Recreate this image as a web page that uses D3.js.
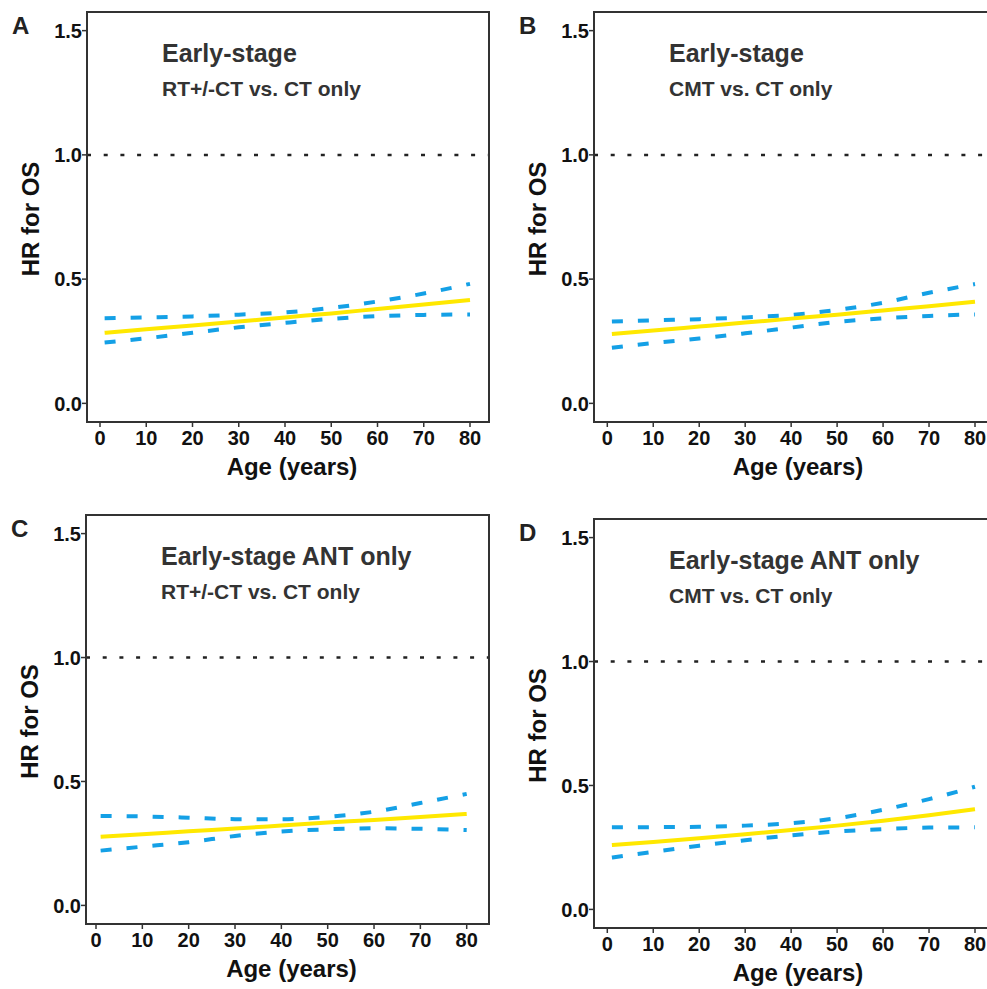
<!DOCTYPE html>
<html>
<head>
<meta charset="utf-8">
<script src="https://cdn.jsdelivr.net/npm/d3@7"></script>
<style>
	body { margin: 0; background: #fff; }
	svg { display: block; font-family: "Liberation Sans", Arial, sans-serif; }
	.frame { fill: none; stroke: #333; stroke-width: 2; }
	.tick-mark { stroke: #333; stroke-width: 1.5; }
	.tick-label { font-size: 20px; font-weight: bold; fill: #111; }
	.axis-title { font-size: 24px; font-weight: bold; fill: #111; }
	.panel-letter { font-size: 24px; font-weight: bold; fill: #222; }
	.title { font-size: 25px; font-weight: bold; fill: #333; }
	.subtitle { font-size: 21px; font-weight: bold; fill: #333; }
	.ref { stroke: #222; stroke-width: 2.5; stroke-dasharray: 4 12.7; }
	.hr { fill: none; stroke: #ffe800; stroke-width: 4; }
	.ci { fill: none; stroke: #14a0e6; stroke-width: 4; stroke-dasharray: 11 15; }
</style>
</head>
<body>
<svg id="vis" width="987" height="989"></svg>
<script>
// data
var AGES = [1, 10, 20, 30, 40, 50, 60, 70, 80];
var X_TICKS = [0, 10, 20, 30, 40, 50, 60, 70, 80];
var Y_TICKS = [0, 0.5, 1.0, 1.5];
var Y_TICK_LABELS = ["0.0", "0.5", "1.0", "1.5"];
var PANEL_LETTERS = ["A", "B", "C", "D"];
var TITLES = ["Early-stage", "Early-stage", "Early-stage ANT only", "Early-stage ANT only"];
var SUBTITLES = ["RT+/-CT vs. CT only", "CMT vs. CT only", "RT+/-CT vs. CT only", "CMT vs. CT only"];

var HR_A    = [0.284, 0.298, 0.313, 0.329, 0.346, 0.362, 0.380, 0.398, 0.416];
var UPPER_A = [0.343, 0.346, 0.350, 0.357, 0.366, 0.384, 0.410, 0.442, 0.481];
var LOWER_A = [0.245, 0.262, 0.284, 0.306, 0.324, 0.340, 0.351, 0.356, 0.358];

var HR_B    = [0.279, 0.293, 0.309, 0.325, 0.341, 0.357, 0.374, 0.391, 0.409];
var UPPER_B = [0.329, 0.334, 0.339, 0.346, 0.356, 0.376, 0.405, 0.445, 0.480];
var LOWER_B = [0.224, 0.243, 0.261, 0.282, 0.305, 0.328, 0.342, 0.352, 0.358];

var HR_C    = [0.277, 0.287, 0.299, 0.310, 0.322, 0.334, 0.345, 0.357, 0.369];
var UPPER_C = [0.361, 0.359, 0.354, 0.348, 0.348, 0.357, 0.378, 0.413, 0.450];
var LOWER_C = [0.221, 0.237, 0.255, 0.280, 0.298, 0.307, 0.311, 0.309, 0.304];

var HR_D    = [0.260, 0.272, 0.287, 0.303, 0.320, 0.338, 0.358, 0.380, 0.404];
var UPPER_D = [0.331, 0.332, 0.333, 0.338, 0.348, 0.368, 0.402, 0.445, 0.495];
var LOWER_D = [0.209, 0.232, 0.257, 0.279, 0.299, 0.314, 0.324, 0.330, 0.331];

var SERIES = [
	{ hr: HR_A, upper: UPPER_A, lower: LOWER_A },
	{ hr: HR_B, upper: UPPER_B, lower: LOWER_B },
	{ hr: HR_C, upper: UPPER_C, lower: LOWER_C },
	{ hr: HR_D, upper: UPPER_D, lower: LOWER_D }
];

// where each panel sits on the page (pixels)
var LAYOUT = [
	{ left: 87,  right: 489, top: 12,  bottom: 422, x0: 100,   x80: 470 },
	{ left: 594, right: 994, top: 12,  bottom: 422, x0: 607.3, x80: 975 },
	{ left: 86,  right: 489, top: 515, bottom: 924, x0: 96,    x80: 466.7 },
	{ left: 594, right: 994, top: 519, bottom: 928, x0: 607.3, x80: 975 }
];

var svg = d3.select("#vis");
svg.append("rect").attr("width", 987).attr("height", 989).attr("fill", "#fff");

LAYOUT.forEach(function(p, i) {
	drawPanel(p, i);
});

function drawPanel(p, i) {
	var g = svg.append("g");
	var xScale = d3.scaleLinear().domain([0, 80]).range([p.x0, p.x80]);
	var yScale = d3.scaleLinear().domain([-0.075, 1.575]).range([p.bottom, p.top]);
	var s = SERIES[i];

	// reference line at HR = 1
	g.append("line")
	 .attr("class", "ref")
	 .attr("x1", p.left)
	 .attr("x2", p.right)
	 .attr("y1", yScale(1))
	 .attr("y2", yScale(1));

	var line = d3.line()
	             .x(function(d, k) { return xScale(AGES[k]); })
	             .y(function(d) { return yScale(d); })
	             .curve(d3.curveMonotoneX);

	g.append("path").attr("class", "ci").attr("d", line(s.upper));
	g.append("path").attr("class", "ci").attr("d", line(s.lower));
	g.append("path").attr("class", "hr").attr("d", line(s.hr));

	// frame
	g.append("rect")
	 .attr("class", "frame")
	 .attr("x", p.left)
	 .attr("y", p.top)
	 .attr("width", p.right - p.left)
	 .attr("height", p.bottom - p.top);

	// x ticks
	g.selectAll(".xt")
	 .data(X_TICKS)
	 .enter()
	 .append("line")
	 .attr("class", "tick-mark")
	 .attr("x1", function(d) { return xScale(d); })
	 .attr("x2", function(d) { return xScale(d); })
	 .attr("y1", p.bottom + 1)
	 .attr("y2", p.bottom + 5);

	g.selectAll(".xl")
	 .data(X_TICKS)
	 .enter()
	 .append("text")
	 .attr("class", "tick-label")
	 .attr("text-anchor", "middle")
	 .attr("x", function(d) { return xScale(d); })
	 .attr("y", p.bottom + 23)
	 .text(function(d) { return d; });

	// y ticks
	g.selectAll(".yt")
	 .data(Y_TICKS)
	 .enter()
	 .append("line")
	 .attr("class", "tick-mark")
	 .attr("x1", p.left - 5)
	 .attr("x2", p.left - 1)
	 .attr("y1", function(d) { return yScale(d); })
	 .attr("y2", function(d) { return yScale(d); });

	g.selectAll(".yl")
	 .data(Y_TICKS)
	 .enter()
	 .append("text")
	 .attr("class", "tick-label")
	 .attr("text-anchor", "end")
	 .attr("x", p.left - 5)
	 .attr("y", function(d) { return yScale(d); })
	 .attr("dy", "0.36em")
	 .text(function(d, k) { return Y_TICK_LABELS[k]; });

	// axis titles
	g.append("text")
	 .attr("class", "axis-title")
	 .attr("text-anchor", "middle")
	 .attr("x", (p.left + p.right) / 2 + 4)
	 .attr("y", p.bottom + 53)
	 .text("Age (years)");

	g.append("text")
	 .attr("class", "axis-title")
	 .attr("text-anchor", "middle")
	 .attr("transform", "translate(" + (p.left - 48) + "," + ((p.top + p.bottom) / 2 + 2) + ") rotate(-90)")
	 .text("HR for OS");

	// panel letter and in-panel titles
	g.append("text")
	 .attr("class", "panel-letter")
	 .attr("x", p.left - 75)
	 .attr("y", p.top + 22)
	 .text(PANEL_LETTERS[i]);

	g.append("text")
	 .attr("class", "title")
	 .attr("x", p.left + 75)
	 .attr("y", p.top + 50)
	 .text(TITLES[i]);

	g.append("text")
	 .attr("class", "subtitle")
	 .attr("x", p.left + 75)
	 .attr("y", p.top + 84)
	 .text(SUBTITLES[i]);
}
</script>
</body>
</html>
